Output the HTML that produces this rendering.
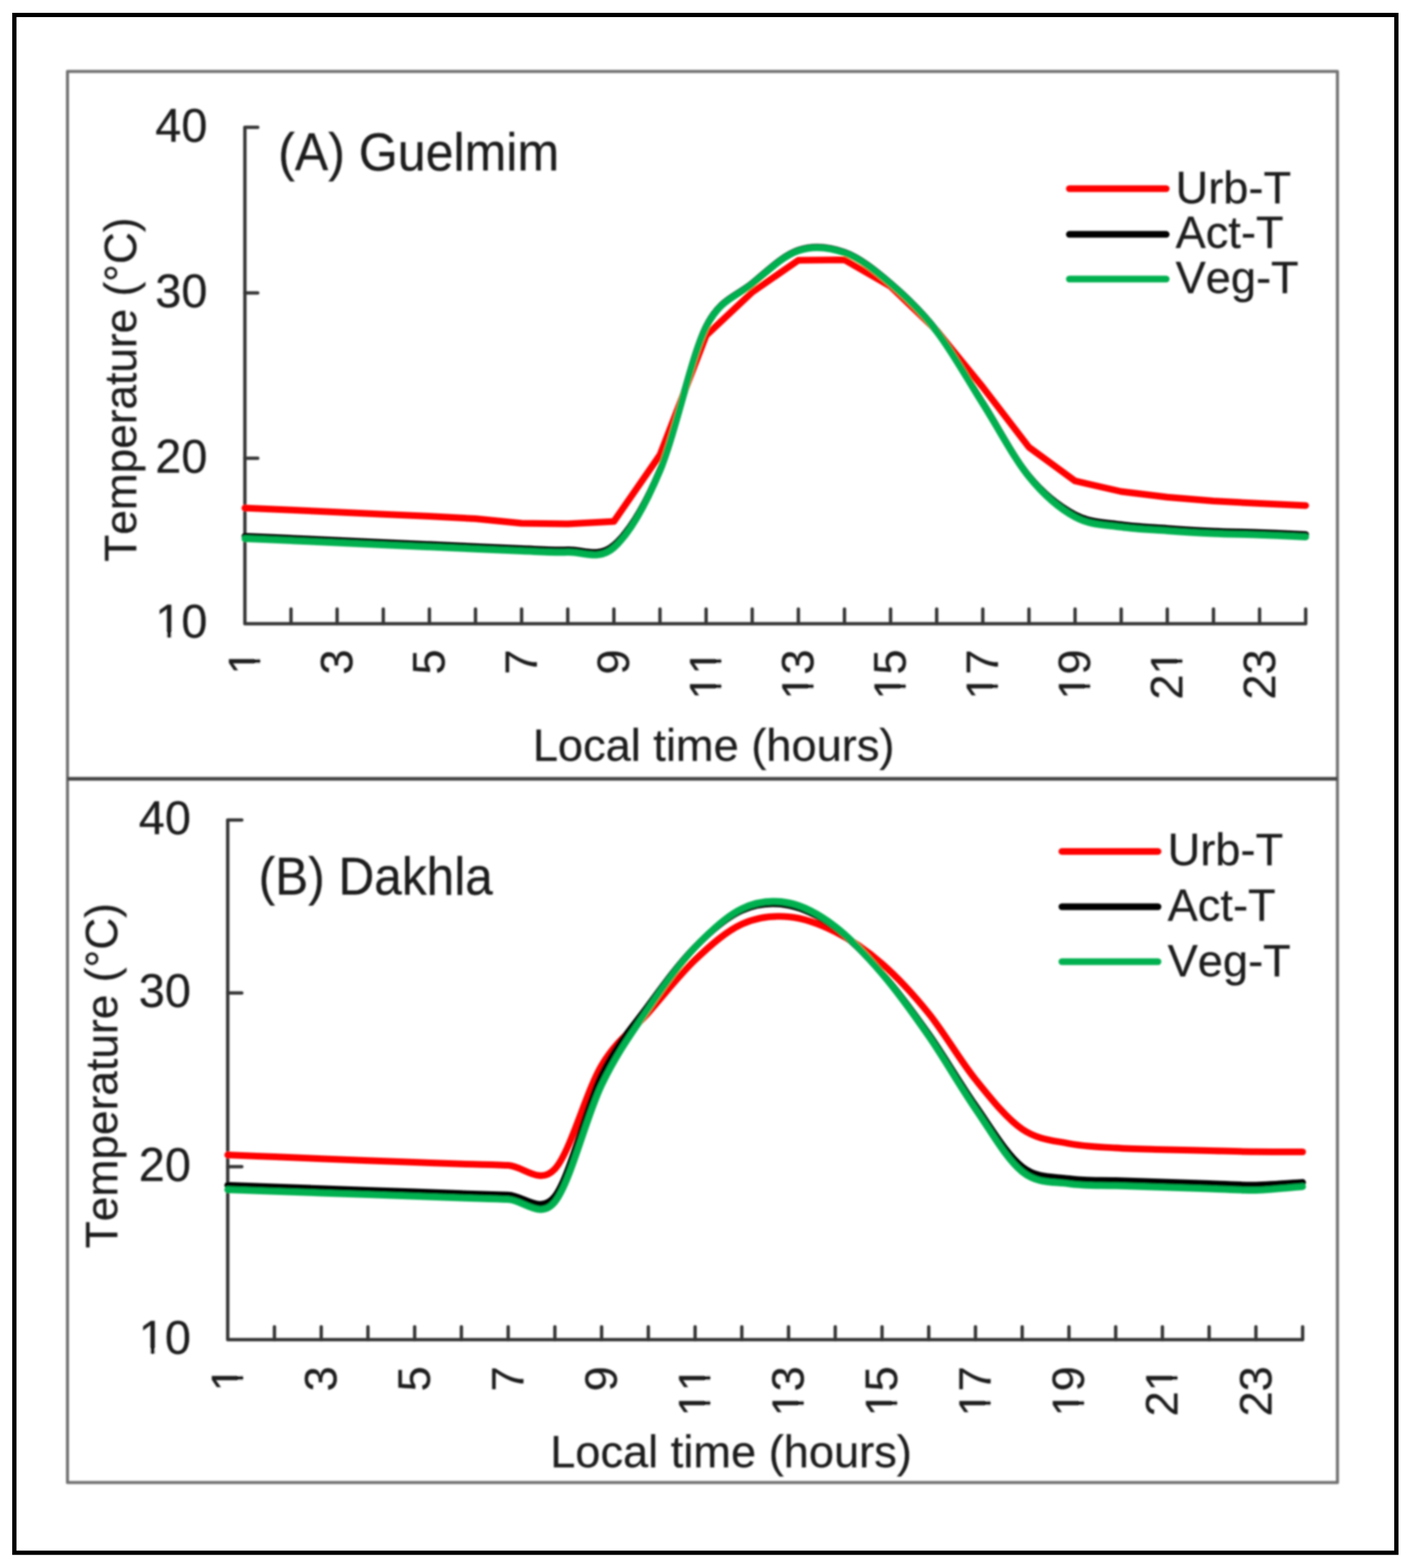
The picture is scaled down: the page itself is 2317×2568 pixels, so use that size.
<!DOCTYPE html>
<html><head><meta charset="utf-8"><title>Urban vs vegetation temperature</title>
<style>
html,body{margin:0;padding:0;background:#fff;}
body{width:2317px;height:2568px;overflow:hidden;}
svg{display:block;}
.t{font-family:"Liberation Sans", Arial, sans-serif;font-size:74px;fill:#1c1c1c;stroke:#1c1c1c;stroke-width:0.4px;font-kerning:none;font-feature-settings:"kern" 0;}
.ti{font-family:"Liberation Sans", Arial, sans-serif;font-size:82px;fill:#1c1c1c;stroke:#1c1c1c;stroke-width:0.4px;font-kerning:none;font-feature-settings:"kern" 0;}
</style></head>
<body>
<svg width="2317" height="2568" viewBox="0 0 2317 2568">
<rect x="0" y="0" width="2317" height="2568" fill="#ffffff"/>
<defs><filter id="soft" x="0" y="0" width="2317" height="2568" filterUnits="userSpaceOnUse"><feGaussianBlur stdDeviation="1.40"/></filter></defs>
<g filter="url(#soft)">
<rect x="110.5" y="117" width="2079.5" height="2311" fill="none" stroke="#727272" stroke-width="5" stroke-linejoin="round"/>
<path d="M110.5,1275.5 H2190" stroke="#444" stroke-width="6"/>
<path d="M401.0,208.6 L401.0,1021.4 L2138.0,1021.4" fill="none" stroke="#343434" stroke-width="5.5" stroke-linejoin="round"/>
<path d="M401.0,208.6 h21.0 M401.0,479.7 h21.0 M401.0,750.5 h21.0 M476.5,1021.4 v-24.0 M552.0,1021.4 v-24.0 M627.6,1021.4 v-24.0 M703.1,1021.4 v-24.0 M778.6,1021.4 v-24.0 M854.1,1021.4 v-24.0 M929.7,1021.4 v-24.0 M1005.2,1021.4 v-24.0 M1080.7,1021.4 v-24.0 M1156.2,1021.4 v-24.0 M1231.7,1021.4 v-24.0 M1307.3,1021.4 v-24.0 M1382.8,1021.4 v-24.0 M1458.3,1021.4 v-24.0 M1533.8,1021.4 v-24.0 M1609.3,1021.4 v-24.0 M1684.9,1021.4 v-24.0 M1760.4,1021.4 v-24.0 M1835.9,1021.4 v-24.0 M1911.4,1021.4 v-24.0 M1987.0,1021.4 v-24.0 M2062.5,1021.4 v-24.0 M2138.0,1021.4 v-24.0" fill="none" stroke="#343434" stroke-width="5.5" stroke-linecap="round"/>
<g transform="translate(339.5,231.6) scale(1.035,1.045) translate(-82.32,0)"><text x="0" y="0" class="t">40</text></g>
<g transform="translate(339.5,502.7) scale(1.035,1.045) translate(-82.32,0)"><text x="0" y="0" class="t">30</text></g>
<g transform="translate(339.5,773.5) scale(1.035,1.045) translate(-82.32,0)"><text x="0" y="0" class="t">20</text></g>
<g transform="translate(339.5,1044.4) scale(1.035,1.045) translate(-82.32,0)"><text x="0" y="0" class="t">10</text><rect x="4.44" y="-7.40" width="14.06" height="8.88" fill="#fff"/><rect x="25.31" y="-7.40" width="13.17" height="8.88" fill="#fff"/></g>
<g transform="translate(426.0,1063.5) rotate(-90) translate(-41.16,0)"><text x="0" y="0" class="t">1</text><rect x="4.44" y="-7.40" width="14.06" height="8.88" fill="#fff"/><rect x="25.31" y="-7.40" width="13.17" height="8.88" fill="#fff"/></g>
<g transform="translate(577.0,1063.5) rotate(-90) translate(-41.16,0)"><text x="0" y="0" class="t">3</text></g>
<g transform="translate(728.1,1063.5) rotate(-90) translate(-41.16,0)"><text x="0" y="0" class="t">5</text></g>
<g transform="translate(879.1,1063.5) rotate(-90) translate(-41.16,0)"><text x="0" y="0" class="t">7</text></g>
<g transform="translate(1030.2,1063.5) rotate(-90) translate(-41.16,0)"><text x="0" y="0" class="t">9</text></g>
<g transform="translate(1181.2,1063.5) rotate(-90) translate(-82.32,0)"><text x="0" y="0" class="t">11</text><rect x="4.44" y="-7.40" width="14.06" height="8.88" fill="#fff"/><rect x="25.31" y="-7.40" width="13.17" height="8.88" fill="#fff"/><rect x="45.60" y="-7.40" width="14.06" height="8.88" fill="#fff"/><rect x="66.47" y="-7.40" width="13.17" height="8.88" fill="#fff"/></g>
<g transform="translate(1332.3,1063.5) rotate(-90) translate(-82.32,0)"><text x="0" y="0" class="t">13</text><rect x="4.44" y="-7.40" width="14.06" height="8.88" fill="#fff"/><rect x="25.31" y="-7.40" width="13.17" height="8.88" fill="#fff"/></g>
<g transform="translate(1483.3,1063.5) rotate(-90) translate(-82.32,0)"><text x="0" y="0" class="t">15</text><rect x="4.44" y="-7.40" width="14.06" height="8.88" fill="#fff"/><rect x="25.31" y="-7.40" width="13.17" height="8.88" fill="#fff"/></g>
<g transform="translate(1634.3,1063.5) rotate(-90) translate(-82.32,0)"><text x="0" y="0" class="t">17</text><rect x="4.44" y="-7.40" width="14.06" height="8.88" fill="#fff"/><rect x="25.31" y="-7.40" width="13.17" height="8.88" fill="#fff"/></g>
<g transform="translate(1785.4,1063.5) rotate(-90) translate(-82.32,0)"><text x="0" y="0" class="t">19</text><rect x="4.44" y="-7.40" width="14.06" height="8.88" fill="#fff"/><rect x="25.31" y="-7.40" width="13.17" height="8.88" fill="#fff"/></g>
<g transform="translate(1936.4,1063.5) rotate(-90) translate(-82.32,0)"><text x="0" y="0" class="t">21</text><rect x="45.60" y="-7.40" width="14.06" height="8.88" fill="#fff"/><rect x="66.47" y="-7.40" width="13.17" height="8.88" fill="#fff"/></g>
<g transform="translate(2087.5,1063.5) rotate(-90) translate(-82.32,0)"><text x="0" y="0" class="t">23</text></g>
<text x="872.4" y="1246.4" class="t">Local time (hours)</text>
<text transform="translate(222.5,920.0) rotate(-90) scale(0.978,1)" class="t">Temperature (°C)</text>
<text transform="translate(455.5,278.5) scale(1.000,1.055)" class="ti">(A) Guelmim</text>
<path d="M1751.0,309.0 H1909.6" stroke="#ff0000" stroke-width="11.0" stroke-linecap="round"/>
<text x="1925.0" y="332.5" class="t">Urb-T</text>
<path d="M1751.0,383.8 H1909.6" stroke="#000000" stroke-width="11.0" stroke-linecap="round"/>
<text x="1925.0" y="406.3" class="t">Act-T</text>
<path d="M1751.0,457.0 H1909.6" stroke="#00b050" stroke-width="11.0" stroke-linecap="round"/>
<text x="1925.0" y="480.0" class="t">Veg-T</text>
<path d="M401.0,832.0 L476.5,835.3 L552.0,838.8 L627.6,842.2 L703.1,845.6 L778.6,849.5 L854.1,857.0 L929.7,858.0 L1005.2,854.0 L1080.7,745.0 L1156.2,549.5 L1231.7,478.5 L1307.3,426.2 L1382.8,425.6 L1458.3,469.0 L1533.8,541.6 L1609.3,634.0 L1684.9,732.5 L1760.4,787.7 L1835.9,805.0 L1911.4,814.3 L1987.0,820.5 L2062.5,824.6 L2138.0,828.0" fill="none" stroke="#ff0000" stroke-width="11.0" stroke-linecap="round" stroke-linejoin="round"/>
<path d="M401.0,878.2 C413.6,878.8 451.3,880.5 476.5,881.6 C501.7,882.7 526.9,883.9 552.0,885.0 C577.2,886.1 602.4,887.3 627.6,888.4 C652.7,889.5 677.9,890.7 703.1,891.8 C728.3,892.9 753.4,894.1 778.6,895.2 C803.8,896.3 829.0,897.6 854.1,898.5 C879.3,899.4 904.5,901.4 929.7,900.5 C954.8,899.6 980.0,914.8 1005.2,893.0 C1030.3,871.2 1055.5,829.7 1080.7,770.0 C1105.9,710.3 1131.0,586.0 1156.2,535.0 C1179.2,488.5 1206.6,484.9 1231.7,464.0 C1256.9,443.1 1282.1,418.2 1307.3,409.7 C1332.4,401.2 1357.6,404.1 1382.8,413.2 C1408.0,422.3 1433.1,442.6 1458.3,464.1 C1483.5,485.6 1508.7,509.4 1533.8,542.1 C1559.0,574.8 1584.2,620.6 1609.3,660.3 C1634.5,699.9 1659.7,749.5 1684.9,780.0 C1710.0,810.5 1735.2,829.8 1760.4,843.0 C1785.6,856.2 1810.7,855.6 1835.9,859.3 C1861.1,863.0 1886.3,863.6 1911.4,865.4 C1936.6,867.2 1961.8,868.8 1987.0,869.9 C2012.1,871.0 2037.3,871.3 2062.5,872.2 C2087.7,873.1 2125.4,875.0 2138.0,875.5" fill="none" stroke="#000000" stroke-width="11.0" stroke-linecap="round" stroke-linejoin="round"/>
<path d="M401.0,882.2 C413.6,882.8 451.3,884.5 476.5,885.6 C501.7,886.7 526.9,887.9 552.0,889.0 C577.2,890.1 602.4,891.3 627.6,892.4 C652.7,893.5 677.9,894.7 703.1,895.8 C728.3,896.9 753.4,898.1 778.6,899.2 C803.8,900.3 829.0,901.6 854.1,902.5 C879.3,903.4 904.5,905.4 929.7,904.5 C954.8,903.6 980.0,919.2 1005.2,897.0 C1030.3,874.8 1055.5,831.2 1080.7,771.0 C1105.9,710.8 1131.0,587.0 1156.2,536.0 C1179.2,489.5 1206.6,485.9 1231.7,465.0 C1256.9,444.1 1282.1,419.2 1307.3,410.7 C1332.4,402.2 1357.6,405.1 1382.8,414.2 C1408.0,423.3 1433.1,443.6 1458.3,465.1 C1483.5,486.6 1508.7,510.4 1533.8,543.1 C1559.0,575.8 1584.2,621.6 1609.3,661.3 C1634.5,700.9 1659.7,750.0 1684.9,781.0 C1710.0,812.0 1735.2,833.3 1760.4,847.0 C1785.6,860.7 1810.7,859.6 1835.9,863.3 C1861.1,867.0 1886.3,867.6 1911.4,869.4 C1936.6,871.2 1961.8,872.8 1987.0,873.9 C2012.1,875.0 2037.3,875.3 2062.5,876.2 C2087.7,877.1 2125.4,879.0 2138.0,879.5" fill="none" stroke="#00b050" stroke-width="11.0" stroke-linecap="round" stroke-linejoin="round"/>
<path d="M372.9,1342.9 L372.9,2194.0 L2133.0,2194.0" fill="none" stroke="#343434" stroke-width="5.5" stroke-linejoin="round"/>
<path d="M372.9,1342.9 h23.0 M372.9,1626.2 h23.0 M372.9,1910.7 h23.0 M449.4,2194.0 v-21.0 M526.0,2194.0 v-21.0 M602.5,2194.0 v-21.0 M679.0,2194.0 v-21.0 M755.5,2194.0 v-21.0 M832.1,2194.0 v-21.0 M908.6,2194.0 v-21.0 M985.1,2194.0 v-21.0 M1061.6,2194.0 v-21.0 M1138.2,2194.0 v-21.0 M1214.7,2194.0 v-21.0 M1291.2,2194.0 v-21.0 M1367.7,2194.0 v-21.0 M1444.3,2194.0 v-21.0 M1520.8,2194.0 v-21.0 M1597.3,2194.0 v-21.0 M1673.8,2194.0 v-21.0 M1750.4,2194.0 v-21.0 M1826.9,2194.0 v-21.0 M1903.4,2194.0 v-21.0 M1979.9,2194.0 v-21.0 M2056.5,2194.0 v-21.0 M2133.0,2194.0 v-21.0" fill="none" stroke="#343434" stroke-width="5.5" stroke-linecap="round"/>
<g transform="translate(312.5,1365.9) scale(1.035,1.045) translate(-82.32,0)"><text x="0" y="0" class="t">40</text></g>
<g transform="translate(312.5,1649.2) scale(1.035,1.045) translate(-82.32,0)"><text x="0" y="0" class="t">30</text></g>
<g transform="translate(312.5,1933.7) scale(1.035,1.045) translate(-82.32,0)"><text x="0" y="0" class="t">20</text></g>
<g transform="translate(312.5,2217.0) scale(1.035,1.045) translate(-82.32,0)"><text x="0" y="0" class="t">10</text><rect x="4.44" y="-7.40" width="14.06" height="8.88" fill="#fff"/><rect x="25.31" y="-7.40" width="13.17" height="8.88" fill="#fff"/></g>
<g transform="translate(397.9,2237.5) rotate(-90) translate(-41.16,0)"><text x="0" y="0" class="t">1</text><rect x="4.44" y="-7.40" width="14.06" height="8.88" fill="#fff"/><rect x="25.31" y="-7.40" width="13.17" height="8.88" fill="#fff"/></g>
<g transform="translate(551.0,2237.5) rotate(-90) translate(-41.16,0)"><text x="0" y="0" class="t">3</text></g>
<g transform="translate(704.0,2237.5) rotate(-90) translate(-41.16,0)"><text x="0" y="0" class="t">5</text></g>
<g transform="translate(857.1,2237.5) rotate(-90) translate(-41.16,0)"><text x="0" y="0" class="t">7</text></g>
<g transform="translate(1010.1,2237.5) rotate(-90) translate(-41.16,0)"><text x="0" y="0" class="t">9</text></g>
<g transform="translate(1163.2,2237.5) rotate(-90) translate(-82.32,0)"><text x="0" y="0" class="t">11</text><rect x="4.44" y="-7.40" width="14.06" height="8.88" fill="#fff"/><rect x="25.31" y="-7.40" width="13.17" height="8.88" fill="#fff"/><rect x="45.60" y="-7.40" width="14.06" height="8.88" fill="#fff"/><rect x="66.47" y="-7.40" width="13.17" height="8.88" fill="#fff"/></g>
<g transform="translate(1316.2,2237.5) rotate(-90) translate(-82.32,0)"><text x="0" y="0" class="t">13</text><rect x="4.44" y="-7.40" width="14.06" height="8.88" fill="#fff"/><rect x="25.31" y="-7.40" width="13.17" height="8.88" fill="#fff"/></g>
<g transform="translate(1469.3,2237.5) rotate(-90) translate(-82.32,0)"><text x="0" y="0" class="t">15</text><rect x="4.44" y="-7.40" width="14.06" height="8.88" fill="#fff"/><rect x="25.31" y="-7.40" width="13.17" height="8.88" fill="#fff"/></g>
<g transform="translate(1622.3,2237.5) rotate(-90) translate(-82.32,0)"><text x="0" y="0" class="t">17</text><rect x="4.44" y="-7.40" width="14.06" height="8.88" fill="#fff"/><rect x="25.31" y="-7.40" width="13.17" height="8.88" fill="#fff"/></g>
<g transform="translate(1775.4,2237.5) rotate(-90) translate(-82.32,0)"><text x="0" y="0" class="t">19</text><rect x="4.44" y="-7.40" width="14.06" height="8.88" fill="#fff"/><rect x="25.31" y="-7.40" width="13.17" height="8.88" fill="#fff"/></g>
<g transform="translate(1928.4,2237.5) rotate(-90) translate(-82.32,0)"><text x="0" y="0" class="t">21</text><rect x="45.60" y="-7.40" width="14.06" height="8.88" fill="#fff"/><rect x="66.47" y="-7.40" width="13.17" height="8.88" fill="#fff"/></g>
<g transform="translate(2081.5,2237.5) rotate(-90) translate(-82.32,0)"><text x="0" y="0" class="t">23</text></g>
<text x="900.9" y="2403.2" class="t">Local time (hours)</text>
<text transform="translate(191.5,2044.5) rotate(-90) scale(0.981,1)" class="t">Temperature (°C)</text>
<text transform="translate(423.5,1465.1) scale(0.990,1.055)" class="ti">(B) Dakhla</text>
<path d="M1738.8,1394.4 H1896.2" stroke="#ff0000" stroke-width="11.0" stroke-linecap="round"/>
<text x="1912.0" y="1417.4" class="t">Urb-T</text>
<path d="M1738.8,1485.1 H1896.2" stroke="#000000" stroke-width="11.0" stroke-linecap="round"/>
<text x="1912.0" y="1508.0" class="t">Act-T</text>
<path d="M1738.8,1575.0 H1896.2" stroke="#00b050" stroke-width="11.0" stroke-linecap="round"/>
<text x="1912.0" y="1598.7" class="t">Veg-T</text>
<path d="M372.9,1891.5 C385.7,1892.0 423.9,1893.5 449.4,1894.6 C474.9,1895.6 500.4,1896.8 526.0,1897.8 C551.5,1898.8 577.0,1899.8 602.5,1900.8 C628.0,1901.8 653.5,1902.7 679.0,1903.6 C704.5,1904.5 730.0,1905.5 755.5,1906.3 C781.0,1907.1 806.5,1907.2 832.1,1908.6 C857.6,1909.9 883.1,1941.7 908.6,1914.4 C934.1,1887.1 959.6,1787.7 985.1,1745.0 C1010.6,1702.3 1036.1,1687.3 1061.6,1658.5 C1087.1,1629.7 1112.7,1596.3 1138.2,1572.1 C1163.7,1547.9 1189.2,1525.3 1214.7,1513.5 C1240.2,1501.7 1265.7,1499.3 1291.2,1501.4 C1316.7,1503.5 1342.2,1513.2 1367.7,1526.0 C1393.2,1538.8 1418.8,1556.1 1444.3,1578.4 C1469.8,1600.7 1495.3,1628.3 1520.8,1659.9 C1546.3,1691.5 1571.8,1736.3 1597.3,1767.9 C1622.8,1799.5 1648.3,1831.8 1673.8,1849.3 C1699.4,1866.8 1724.9,1867.8 1750.4,1872.9 C1775.9,1878.0 1801.4,1878.4 1826.9,1880.1 C1852.4,1881.8 1877.9,1882.1 1903.4,1882.8 C1928.9,1883.5 1954.4,1883.9 1979.9,1884.5 C2005.5,1885.1 2031.0,1885.9 2056.5,1886.2 C2082.0,1886.5 2120.2,1886.5 2133.0,1886.5" fill="none" stroke="#ff0000" stroke-width="11.0" stroke-linecap="round" stroke-linejoin="round"/>
<path d="M372.9,1941.3 C385.7,1941.8 423.9,1943.1 449.4,1944.0 C474.9,1944.9 500.4,1945.8 526.0,1946.7 C551.5,1947.6 577.0,1948.5 602.5,1949.4 C628.0,1950.3 653.5,1951.2 679.0,1952.1 C704.5,1953.0 730.0,1953.9 755.5,1954.8 C781.0,1955.7 806.5,1956.5 832.1,1957.3 C857.6,1958.1 885.1,1989.7 908.6,1959.5 C934.1,1926.7 959.6,1812.6 985.1,1760.5 C1010.6,1708.4 1036.1,1681.9 1061.6,1647.0 C1087.1,1612.1 1112.7,1577.0 1138.2,1551.0 C1163.7,1525.0 1189.2,1502.4 1214.7,1491.0 C1240.2,1479.6 1265.7,1477.8 1291.2,1482.5 C1316.7,1487.2 1342.2,1500.9 1367.7,1519.5 C1393.2,1538.1 1418.8,1564.9 1444.3,1594.0 C1469.8,1623.1 1495.3,1657.8 1520.8,1694.0 C1546.3,1730.2 1571.8,1774.8 1597.3,1811.0 C1622.8,1847.2 1648.3,1891.1 1673.8,1911.0 C1699.4,1930.9 1724.9,1926.7 1750.4,1930.5 C1775.9,1934.3 1801.4,1932.7 1826.9,1933.6 C1852.4,1934.5 1877.9,1935.3 1903.4,1936.1 C1928.9,1936.9 1954.4,1937.6 1979.9,1938.4 C2005.5,1939.2 2031.0,1941.2 2056.5,1940.9 C2082.0,1940.6 2120.2,1937.2 2133.0,1936.5" fill="none" stroke="#000000" stroke-width="11.0" stroke-linecap="round" stroke-linejoin="round"/>
<path d="M372.9,1948.5 C385.7,1949.0 423.9,1950.3 449.4,1951.2 C474.9,1952.1 500.4,1953.0 526.0,1953.9 C551.5,1954.8 577.0,1955.7 602.5,1956.6 C628.0,1957.5 653.5,1958.4 679.0,1959.3 C704.5,1960.2 730.0,1961.1 755.5,1962.0 C781.0,1962.9 806.5,1963.4 832.1,1964.5 C857.6,1965.6 884.4,1998.2 908.6,1968.5 C934.1,1937.2 959.6,1829.8 985.1,1777.0 C1010.6,1724.2 1036.1,1689.6 1061.6,1652.0 C1087.1,1614.4 1112.7,1578.9 1138.2,1551.6 C1163.7,1524.3 1189.2,1500.3 1214.7,1488.1 C1240.2,1475.9 1265.7,1473.6 1291.2,1478.5 C1316.7,1483.4 1342.2,1497.9 1367.7,1517.3 C1393.2,1536.7 1418.8,1564.9 1444.3,1594.9 C1469.8,1624.9 1495.3,1660.3 1520.8,1697.2 C1546.3,1734.1 1571.8,1779.3 1597.3,1816.3 C1622.8,1853.3 1648.3,1898.7 1673.8,1919.1 C1699.4,1939.5 1724.9,1935.1 1750.4,1938.9 C1775.9,1942.7 1801.4,1941.1 1826.9,1942.1 C1852.4,1943.0 1877.9,1943.8 1903.4,1944.6 C1928.9,1945.4 1954.4,1946.1 1979.9,1946.9 C2005.5,1947.7 2031.0,1950.0 2056.5,1949.4 C2082.0,1948.8 2120.2,1944.4 2133.0,1943.4" fill="none" stroke="#00b050" stroke-width="11.0" stroke-linecap="round" stroke-linejoin="round"/>
</g>
<rect x="23.5" y="24.5" width="2263" height="2518.5" fill="none" stroke="#000" stroke-width="7"/>
</svg>
</body></html>
